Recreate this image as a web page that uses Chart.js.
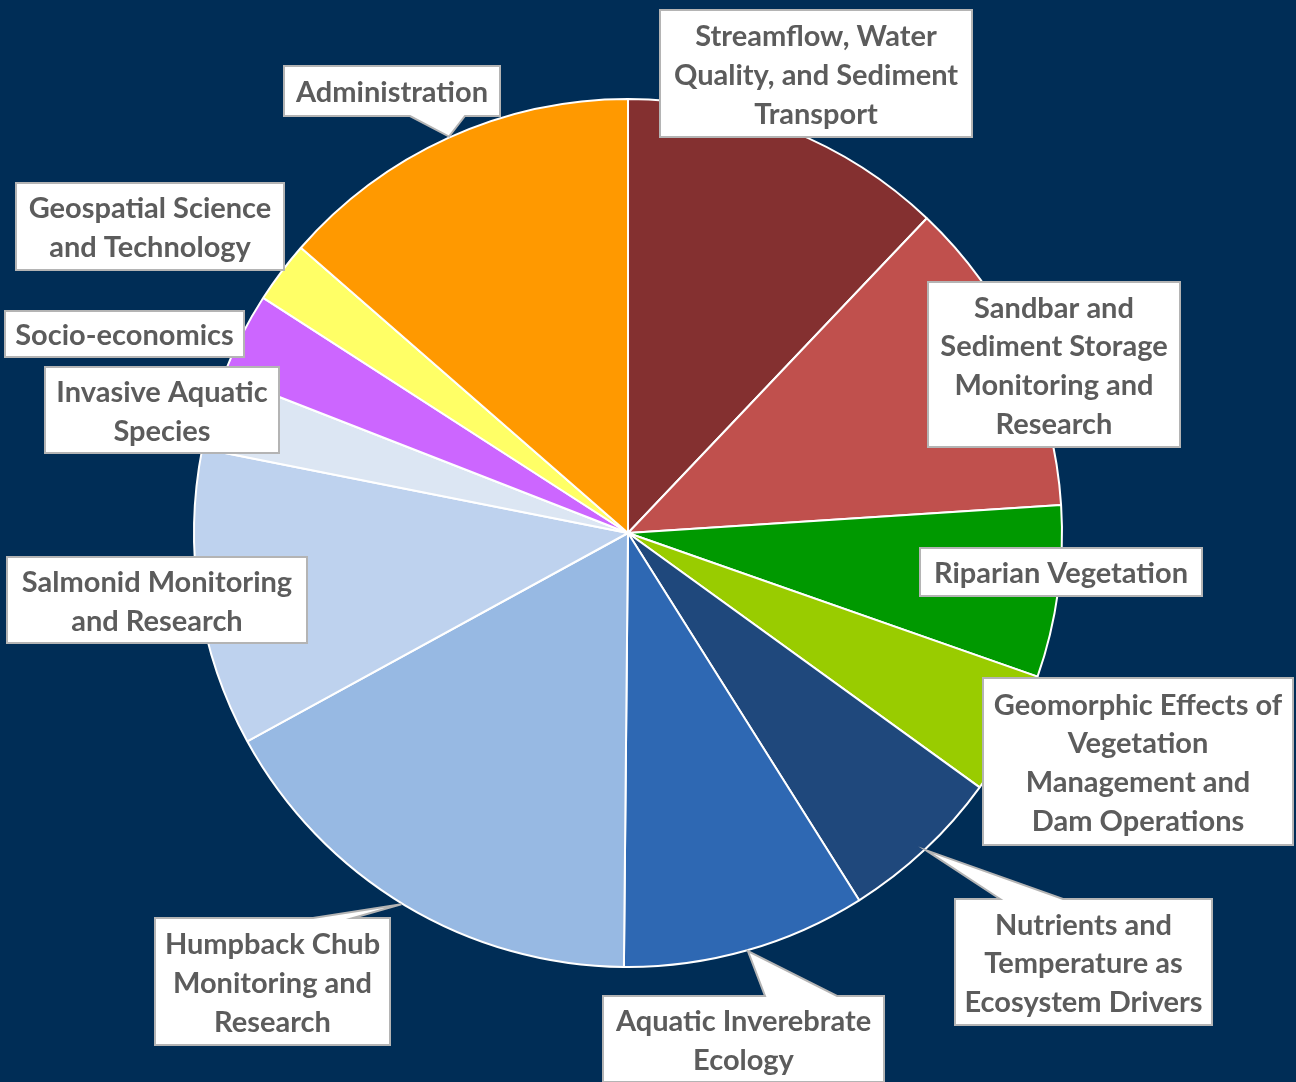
<!DOCTYPE html>
<html>
<head>
<meta charset="utf-8">
<script src="https://cdn.jsdelivr.net/npm/chart.js@4"></script>
<style>
    body { margin: 0; background: #002d56; }
    #wrap { width: 1296px; height: 1082px; position: relative; }
</style>
</head>
<body>
<div id="wrap"><canvas id="pieChart"></canvas></div>
<script>
// Program areas, clockwise from 12 o'clock, share of budget (%)
const categories = [
    'Streamflow, Water Quality, and Sediment Transport',
    'Sandbar and Sediment Storage Monitoring and Research',
    'Riparian Vegetation',
    'Geomorphic Effects of Vegetation Management and Dam Operations',
    'Nutrients and Temperature as Ecosystem Drivers',
    'Aquatic Inverebrate Ecology',
    'Humpback Chub Monitoring and Research',
    'Salmonid Monitoring and Research',
    'Invasive Aquatic Species',
    'Socio-economics',
    'Geospatial Science and Technology',
    'Administration'
];
const shares = [12.1, 11.9, 6.4, 4.6, 6.1, 9.1, 16.9, 11.1, 2.8, 3.2, 2.3, 13.6];

const sliceColors = [
    '#843030', '#c0504d', '#009900', '#99cc00', '#1f487c', '#2e68b3',
    '#97b9e3', '#bed2ee', '#dce6f3', '#cc66ff', '#ffff66', '#ff9900'
];

// Callout boxes, offsets from the pie centre (px). Pointer tip angle in degrees clockwise from top.
const callouts = [
    { lines: ['Streamflow, Water', 'Quality, and Sediment', 'Transport'], box: [32, -523, 312, 127] },
    { lines: ['Sandbar and', 'Sediment Storage', 'Monitoring and', 'Research'], box: [300, -251, 252, 165] },
    { lines: ['Riparian Vegetation'], box: [292, 15, 282, 48] },
    { lines: ['Geomorphic Effects of', 'Vegetation', 'Management and', 'Dam Operations'], box: [355, 145, 310, 167] },
    { lines: ['Nutrients and', 'Temperature as', 'Ecosystem Drivers'], box: [327, 366, 257, 126],
      ptr: { side: 'top', x1: 372, x2: 435, angle: 136.8 } },
    { lines: ['Aquatic Inverebrate', 'Ecology'], box: [-25, 463, 281, 86],
      ptr: { side: 'top', x1: 137, x2: 209, angle: 164 } },
    { lines: ['Humpback Chub', 'Monitoring and', 'Research'], box: [-473, 385, 235, 127],
      ptr: { side: 'top', x1: -315, x2: -275, angle: 211.4 } },
    { lines: ['Salmonid Monitoring', 'and Research'], box: [-621, 24, 300, 86] },
    { lines: ['Invasive Aquatic', 'Species'], box: [-583, -166, 234, 86] },
    { lines: ['Socio-economics'], box: [-623, -222, 239, 46] },
    { lines: ['Geospatial Science', 'and Technology'], box: [-612, -350, 268, 87] },
    { lines: ['Administration'], box: [-344, -467, 216, 50],
      ptr: { side: 'bottom', x1: -218, x2: -163, angle: 335.7 } }
];

const calloutPlugin = {
    id: 'callouts',
    afterDraw(chart) {
        const arc = chart.getDatasetMeta(0).data[0];
        const cx = arc.x, cy = arc.y, r = arc.outerRadius + 1;
        const ctx = chart.ctx;
        ctx.save();
        ctx.font = 'bold 29px Lato';
        ctx.textAlign = 'center';
        ctx.textBaseline = 'middle';
        callouts.forEach(c => {
            const [bx, by, bw, bh] = c.box;
            const x = cx + bx, y = cy + by;
            ctx.beginPath();
            ctx.moveTo(x, y);
            if (c.ptr && c.ptr.side === 'top') {
                const a = c.ptr.angle * Math.PI / 180;
                ctx.lineTo(cx + c.ptr.x1, y);
                ctx.lineTo(cx + r * Math.sin(a), cy - r * Math.cos(a));
                ctx.lineTo(cx + c.ptr.x2, y);
            }
            ctx.lineTo(x + bw, y);
            ctx.lineTo(x + bw, y + bh);
            if (c.ptr && c.ptr.side === 'bottom') {
                const a = c.ptr.angle * Math.PI / 180;
                ctx.lineTo(cx + c.ptr.x2, y + bh);
                ctx.lineTo(cx + r * Math.sin(a), cy - r * Math.cos(a));
                ctx.lineTo(cx + c.ptr.x1, y + bh);
            }
            ctx.lineTo(x, y + bh);
            ctx.closePath();
            ctx.fillStyle = '#ffffff';
            ctx.fill();
            ctx.lineWidth = 2;
            ctx.strokeStyle = '#b4b4b4';
            ctx.stroke();

            ctx.fillStyle = '#5c5c5c';
            const n = c.lines.length;
            c.lines.forEach((t, i) => {
                ctx.fillText(t, x + bw / 2, y + bh / 2 + 2 + (i - (n - 1) / 2) * 38.8);
            });
        });
        ctx.restore();
    }
};

const ctx = document.getElementById('pieChart').getContext('2d');
const pieChart = new Chart(ctx, {
    type: 'pie',
    data: {
        labels: categories,
        datasets: [{
            data: shares,
            backgroundColor: sliceColors,
            borderColor: '#ffffff',
            borderWidth: 2
        }]
    },
    options: {
        responsive: true,
        maintainAspectRatio: false,
        animation: false,
        layout: { padding: { top: 98, bottom: 114, left: 0, right: 40 } },
        plugins: {
            legend: { display: false },
            tooltip: { enabled: false }
        }
    },
    plugins: [calloutPlugin]
});
</script>
</body>
</html>
